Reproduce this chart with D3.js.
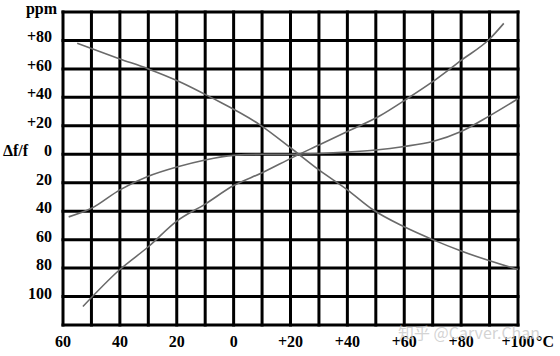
<!DOCTYPE html>
<html>
<head>
<meta charset="utf-8">
<script src="https://cdn.jsdelivr.net/npm/d3@7"></script>
<style>
  body { margin: 0; background: #fff; }
  svg { display: block; }
</style>
</head>
<body>
<div id="chart"></div>
<script>
// temperature (°C) / frequency deviation (ppm)
var tempA = [-55, -40, -30, -19, -8, 9, 21, 30, 40, 49, 60, 70, 80, 100];
var ppmA  = [78, 67, 60, 51, 40, 21, 3, -11, -25, -39, -51, -60, -68, -81];

var tempB = [-53, -40, -30, -20, -10, 0, 10, 21, 30, 40, 51, 61, 70, 80, 90, 95];
var ppmB  = [-107, -81, -65, -47, -35, -22, -13, -2, 6.5, 16, 26.5, 39, 51, 66, 81, 92];

var tempC = [-58, -50, -40, -30, -20, -10, 0, 10, 20, 30, 40, 50, 60, 70, 80, 90, 100];
var ppmC  = [-44, -38, -25, -15.5, -9, -4, -0.8, 0, 0, 0.5, 1.5, 3, 5.5, 9, 16, 27, 39];

var xTicks = [-60, -40, -20, 0, 20, 40, 60, 80, 100];
var xTickLabels = ["60", "40", "20", "0", "+20", "+40", "+60", "+80", "+100"];
var yTicks = [100, 80, 60, 40, 20, 0, -20, -40, -60, -80, -100];
var yTickLabels = ["ppm", "+80", "+60", "+40", "+20", "0", "20", "40", "60", "80", "100"];

var w = 560, h = 356;

var x = d3.scaleLinear().domain([-60, 100]).range([63, 518]);
var y = d3.scaleLinear().domain([-120, 100]).range([325, 12]);

var svg = d3.select("#chart").append("svg")
  .attr("width", w)
  .attr("height", h);

// grid, every 10 °C and every 20 ppm
var grid = svg.append("g").attr("stroke", "#000").attr("stroke-width", 3);
grid.selectAll("line.v")
  .data(d3.range(-60, 101, 10))
  .enter().append("line")
  .attr("x1", function(d) { return x(d); })
  .attr("x2", function(d) { return x(d); })
  .attr("y1", y(100) - 1.5)
  .attr("y2", y(-120) + 1.5);
grid.selectAll("line.h")
  .data(d3.range(-120, 101, 20))
  .enter().append("line")
  .attr("y1", function(d) { return y(d); })
  .attr("y2", function(d) { return y(d); })
  .attr("x1", x(-60) - 1.5)
  .attr("x2", x(100) + 1.5);

// curves
var line = d3.line()
  .x(function(d) { return x(d[0]); })
  .y(function(d) { return y(d[1]); })
  .curve(d3.curveMonotoneX);

[[tempA, ppmA], [tempB, ppmB], [tempC, ppmC]].forEach(function(s) {
  svg.append("path")
    .datum(d3.zip(s[0], s[1]))
    .attr("fill", "none")
    .attr("stroke", "#6a6a6a")
    .attr("stroke-width", 1.6)
    .attr("d", line);
});

var font = "'Liberation Serif', 'DejaVu Serif', serif";

// y labels
svg.append("g").selectAll("text")
  .data(yTicks)
  .enter().append("text")
  .attr("x", function(d, i) { return i == 0 ? 57 : 52; })
  .attr("y", function(d) { return y(d) + 2; })
  .attr("text-anchor", "end")
  .attr("font-family", font)
  .attr("font-size", 16)
  .attr("font-weight", "bold")
  .text(function(d, i) { return yTickLabels[i]; });

svg.append("text")
  .attr("x", 3)
  .attr("y", y(0) + 2)
  .attr("font-family", font)
  .attr("font-size", 16)
  .attr("font-weight", "bold")
  .text("\u0394f/f");

// x labels
svg.append("g").selectAll("text")
  .data(xTicks)
  .enter().append("text")
  .attr("x", function(d) { return x(d); })
  .attr("y", 347)
  .attr("text-anchor", "middle")
  .attr("font-family", font)
  .attr("font-size", 16)
  .attr("font-weight", "bold")
  .text(function(d, i) { return xTickLabels[i]; });

svg.append("text")
  .attr("x", 536)
  .attr("y", 347)
  .attr("font-family", font)
  .attr("font-size", 16)
  .attr("font-weight", "bold")
  .text("\u00b0C");

// watermark
svg.append("text")
  .attr("x", 398)
  .attr("y", 339)
  .attr("font-family", "'Noto Sans CJK SC', 'Noto Sans', sans-serif")
  .attr("font-size", 16)
  .attr("fill", "#c8c8c8")
  .attr("fill-opacity", 0.8)
  .text("知乎 @Carver.Chan");
</script>
</body>
</html>
